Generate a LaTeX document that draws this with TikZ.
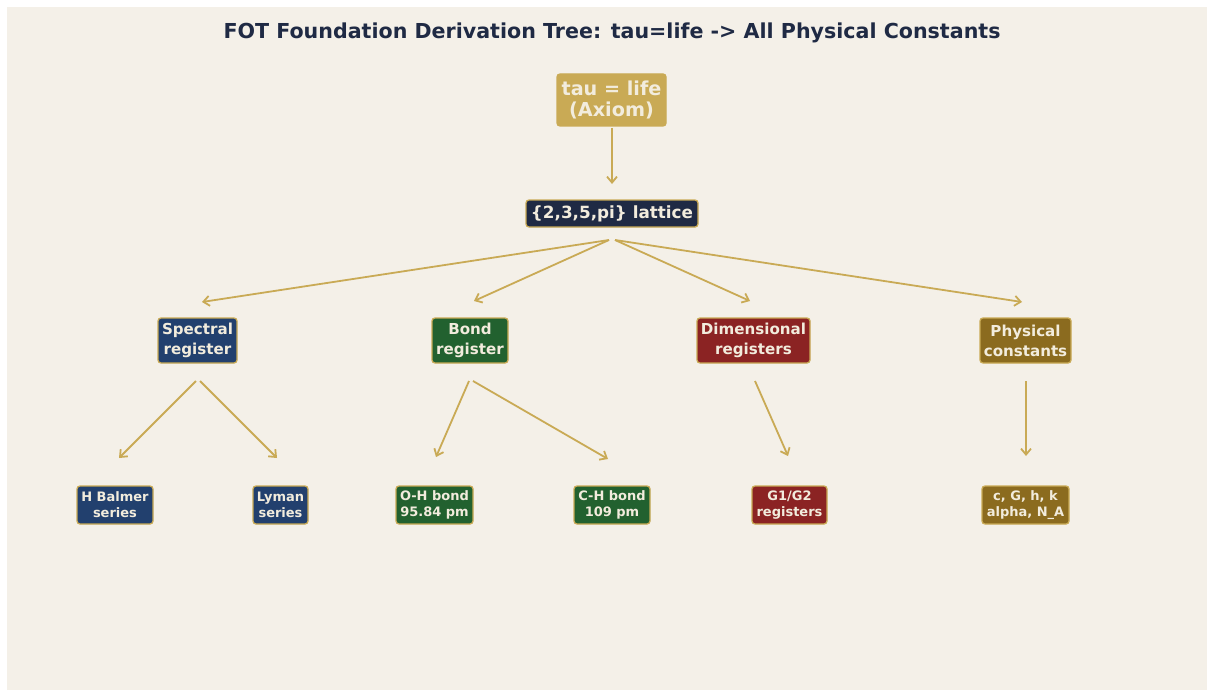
\documentclass[tikz,border=0pt]{standalone}
\usepackage{fontspec}
\setmainfont{DejaVu Sans}
\usetikzlibrary{arrows.meta}
\definecolor{bgc}{HTML}{F4F0E8}
\definecolor{gold}{HTML}{C9AA55}
\definecolor{navy}{HTML}{1F2A44}
\definecolor{sblue}{HTML}{22406E}
\definecolor{bgreen}{HTML}{22612F}
\definecolor{dred}{HTML}{8B2323}
\definecolor{olive}{HTML}{8B6B1F}
\definecolor{cream}{HTML}{F2ECDD}
\tikzset{
  box/.style={draw=gold, line width=1.3pt, rounded corners=3pt, text=cream, font=\bfseries, align=center, inner sep=0pt},
  conn/.style={draw=gold, line width=1.8pt, -{Straight Barb[length=6pt,width=10pt,line width=1.8pt]}},
}
\begin{document}
\begin{tikzpicture}[x=1pt,y=-1pt]
\useasboundingbox (0,0) rectangle (1207,690);
\fill[white] (0,0) rectangle (1207,690);
\fill[bgc] (7,7) rectangle (1207,690);
\node[font=\bfseries\fontsize{20.6}{24}\selectfont, text=navy] (title) at (612,32.5) {FOT Foundation Derivation Tree: tau=life -> All Physical Constants};

\node[box, fill=gold, minimum width=109pt, minimum height=52pt, font=\bfseries\fontsize{19.2}{21}\selectfont] (tau) at (611.5,100) {tau = life\\(Axiom)};
\node[box, fill=navy, minimum width=172pt, minimum height=27pt, font=\bfseries\fontsize{16.8}{20}\selectfont] (lat) at (612,213.5) {\{2,3,5,pi\} lattice};

\tikzset{l2/.style={box, minimum height=45pt, font=\bfseries\fontsize{15.1}{20}\selectfont}}
\node[l2, fill=sblue, minimum width=79pt] (spec) at (197.5,340.5) {Spectral\\register};
\node[l2, fill=bgreen, minimum width=76pt] (bond) at (470,340.5) {Bond\\register};
\node[l2, fill=dred, minimum width=113pt] (dim) at (753.5,340.5) {Dimensional\\registers};
\node[l2, fill=olive, minimum width=91pt] (phys) at (1025.5,340.5) {Physical\\constants};

\tikzset{l3/.style={box, minimum height=38pt, font=\bfseries\fontsize{13}{16}\selectfont}}
\node[l3, fill=sblue, minimum width=76pt] (balmer) at (115,505) {H Balmer\\series};
\node[l3, fill=sblue, minimum width=55pt] (lyman) at (280.5,505) {Lyman\\series};
\node[l3, fill=bgreen, minimum width=77pt] (oh) at (434.5,505) {O-H bond\\95.84 pm};
\node[l3, fill=bgreen, minimum width=76pt] (ch) at (612,505) {C-H bond\\109 pm};
\node[l3, fill=dred, minimum width=75pt] (g12) at (789.5,505) {G1/G2\\registers};
\node[l3, fill=olive, minimum width=87pt] (cg) at (1025.5,505) {c, G, h, k\\alpha, N\_A};

% connector end points
\coordinate (tauS) at (612,128);
\coordinate (latN) at (612,184);
\coordinate (latS1) at (609,240);
\coordinate (latS2) at (609,240);
\coordinate (latS3) at (615,240);
\coordinate (latS4) at (615,240);
\coordinate (specN) at (202,302);
\coordinate (bondN) at (474,301);
\coordinate (dimN) at (750,301);
\coordinate (physN) at (1022,302);
\coordinate (specS1) at (196,381);
\coordinate (specS2) at (200,381);
\coordinate (balmerN) at (119,458);
\coordinate (lymanN) at (277,458);
\coordinate (bondS1) at (469,381);
\coordinate (bondS2) at (473,381);
\coordinate (ohN) at (436,457);
\coordinate (chN) at (608,459);
\coordinate (dimS) at (755,381);
\coordinate (g12N) at (788,456);
\coordinate (physS) at (1026,381);
\coordinate (cgN) at (1026,456);

\draw[conn] (tauS) -- (latN);
\draw[conn] (latS1) -- (specN);
\draw[conn] (latS2) -- (bondN);
\draw[conn] (latS3) -- (dimN);
\draw[conn] (latS4) -- (physN);
\draw[conn] (specS1) -- (balmerN);
\draw[conn] (specS2) -- (lymanN);
\draw[conn] (bondS1) -- (ohN);
\draw[conn] (bondS2) -- (chN);
\draw[conn] (dimS) -- (g12N);
\draw[conn] (physS) -- (cgN);
\end{tikzpicture}
\end{document}
